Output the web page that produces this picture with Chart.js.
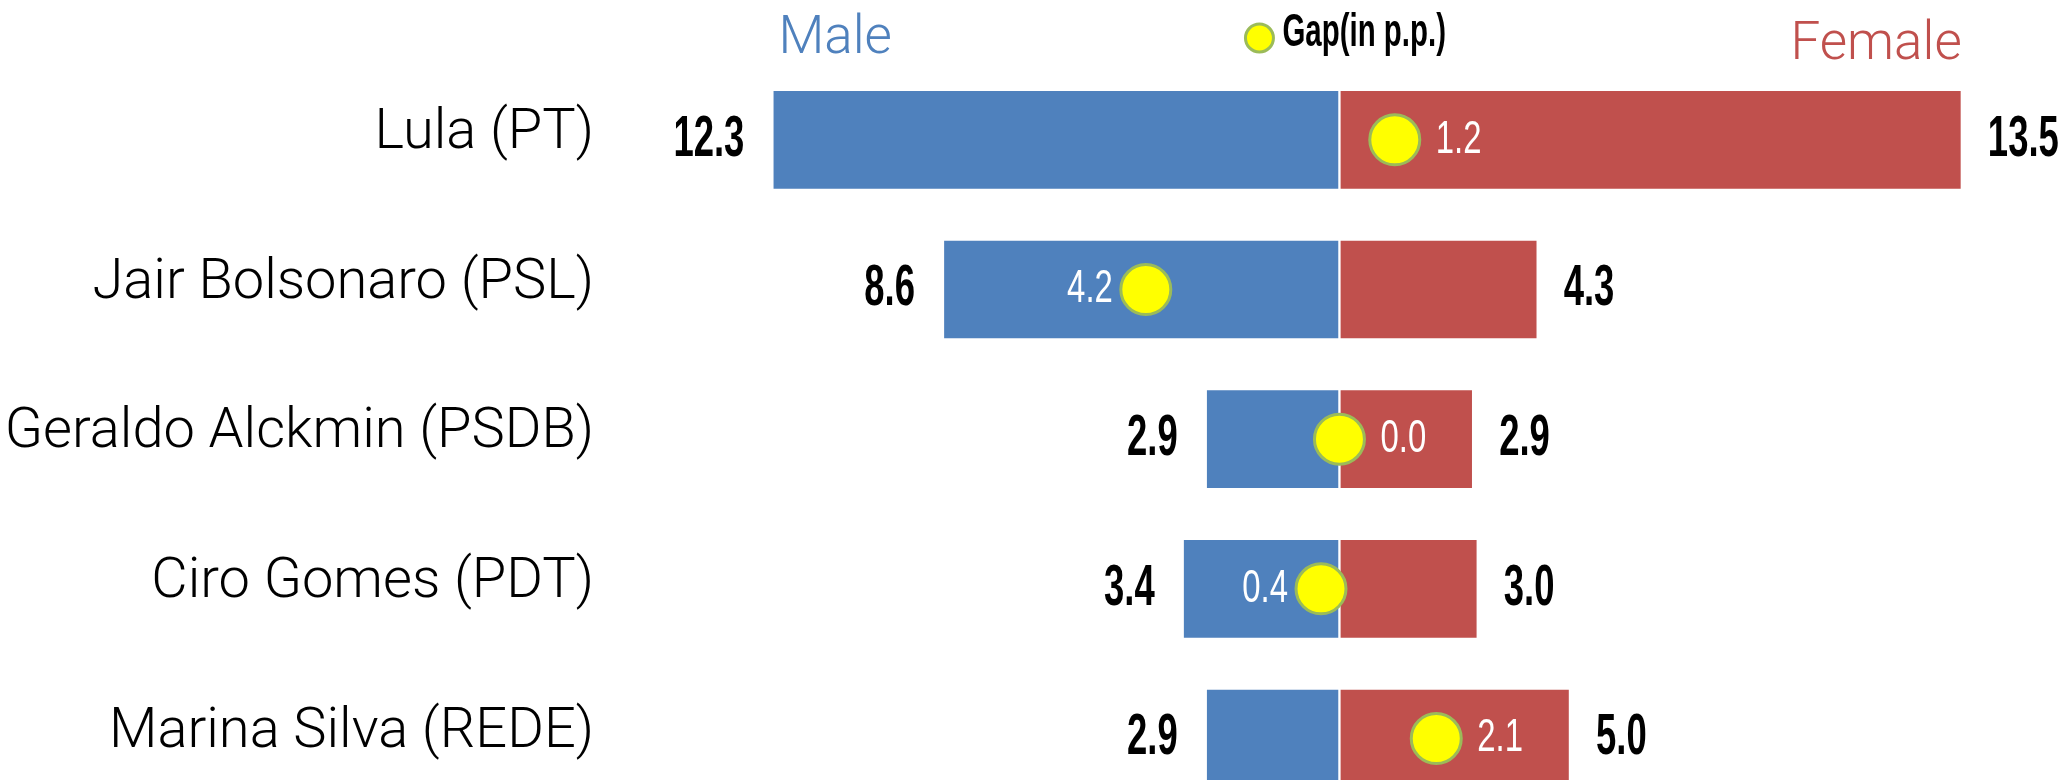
<!DOCTYPE html>
<html>
<head>
<meta charset="utf-8">
<script src="https://cdn.jsdelivr.net/npm/chart.js@4"></script>
<style>
    html, body { margin: 0; padding: 0; background: #fff; overflow: hidden; }
    #wrap { width: 2069px; height: 780px; }
</style>
</head>
<body>
<div id="wrap"><canvas id="myChart" width="2069" height="780"></canvas></div>
<script>
const candidates = [
    'Lula (PT)',
    'Jair Bolsonaro (PSL)',
    'Geraldo Alckmin (PSDB)',
    'Ciro Gomes (PDT)',
    'Marina Silva (REDE)',
];
const maleValues = [12.3, 8.6, 2.9, 3.4, 2.9];
const femaleValues = [13.5, 4.3, 2.9, 3.0, 5.0];
const gapValues = [1.2, -4.2, 0.0, -0.4, 2.1]; // negative = male side
const xMin = -14;
const xMax = 15;
// rows are numbered 0..4; the last row runs past the bottom of the picture
const yMin = -0.5;
const yMax = 4.09;

const BLUE = '#4F81BD';
const RED = '#C0504D';
const YELLOW = '#FFFF00';
const GREEN = '#9BBB59';
const NUM_FONT = "'Liberation Sans Narrow', 'Arial Narrow', sans-serif";

function drawText(ctx, text, x, y, align, font, color, sx) {
    ctx.save();
    ctx.font = font;
    ctx.fillStyle = color;
    ctx.textBaseline = 'middle';
    ctx.textAlign = align;
    ctx.translate(x, y);
    ctx.scale(sx, 1);
    ctx.fillText(text, 0, 0);
    ctx.restore();
}

// category names, value labels, gap labels, headers and legend
const labelsPlugin = {
    id: 'labels',
    afterDatasetsDraw(chart) {
        const ctx = chart.ctx;
        const xs = chart.scales.x;
        const ys = chart.scales.y;
        const center = xs.getPixelForValue(0);

        // candidate names
        candidates.forEach((name, i) => {
            drawText(ctx, name, chart.chartArea.left - 100, ys.getPixelForValue(i) - 6,
                'right', '300 56px Roboto', '#000', 1);
        });

        // gap labels (white, inside bars)
        chart.getDatasetMeta(0).data.forEach((pt, i) => {
            const g = gapValues[i];
            const txt = Math.abs(g).toFixed(1);
            if (g < 0) {
                drawText(ctx, txt, pt.x - 33, pt.y, 'right', '47px ' + NUM_FONT, '#fff', 0.7);
            } else {
                drawText(ctx, txt, pt.x + 41, pt.y, 'left', '47px ' + NUM_FONT, '#fff', 0.7);
            }
        });

        // male values
        chart.getDatasetMeta(1).data.forEach((bar, i) => {
            drawText(ctx, maleValues[i].toFixed(1), bar.x - 28, bar.y, 'right',
                'bold 57px ' + NUM_FONT, '#000', 0.64);
        });
        // female values
        chart.getDatasetMeta(2).data.forEach((bar, i) => {
            drawText(ctx, femaleValues[i].toFixed(1), bar.x + 26, bar.y, 'left',
                'bold 57px ' + NUM_FONT, '#000', 0.64);
        });

        // headers
        const maleLeft = xs.getPixelForValue(-Math.max(...maleValues));
        const femaleRight = xs.getPixelForValue(Math.max(...femaleValues));
        ctx.save();
        ctx.textBaseline = 'alphabetic';
        ctx.font = '300 53px Roboto';
        ctx.fillStyle = BLUE;
        ctx.textAlign = 'left';
        ctx.fillText('Male', maleLeft + 6, 53);
        ctx.fillStyle = RED;
        ctx.textAlign = 'right';
        ctx.fillText('Female', femaleRight, 59);
        ctx.restore();

        // legend
        ctx.save();
        ctx.beginPath();
        ctx.arc(center - 80, 38, 14, 0, Math.PI * 2);
        ctx.fillStyle = YELLOW;
        ctx.fill();
        ctx.lineWidth = 3;
        ctx.strokeStyle = GREEN;
        ctx.stroke();
        ctx.restore();
        drawText(ctx, 'Gap(in p.p.)', center - 57, 33, 'left', 'bold 46px ' + NUM_FONT, '#000', 0.64);
    },
};

const ctx = document.getElementById('myChart');
new Chart(ctx, {
    type: 'bar',
    data: {
        labels: candidates,
        datasets: [
            {
                type: 'line',
                label: 'Gap (in p.p.)',
                indexAxis: 'y',
                data: gapValues.map((g, i) => ({ x: g, y: i })),
                showLine: false,
                pointRadius: 25,
                pointBackgroundColor: YELLOW,
                pointBorderColor: GREEN,
                pointBorderWidth: 3,
                clip: false,
                order: 0,
            },
            {
                label: 'Male',
                data: maleValues.map((v, i) => ({ x: -v, y: i })),
                backgroundColor: BLUE,
                borderColor: '#fff',
                borderWidth: 1.5,
                borderSkipped: false,
                clip: false,
                order: 1,
            },
            {
                label: 'Female',
                data: femaleValues.map((v, i) => ({ x: v, y: i })),
                backgroundColor: RED,
                borderColor: '#fff',
                borderWidth: 1.5,
                borderSkipped: false,
                clip: false,
                order: 1,
            },
        ],
    },
    options: {
        indexAxis: 'y',
        responsive: false,
        animation: false,
        devicePixelRatio: 1,
        barThickness: 100,
        layout: { padding: { left: 694, right: 38, top: 65, bottom: 0 } },
        plugins: {
            legend: { display: false },
            tooltip: { enabled: false },
        },
        scales: {
            x: {
                type: 'linear',
                display: false,
                stacked: true,
                offset: false,
                min: xMin,
                max: xMax,
            },
            y: {
                type: 'linear',
                display: false,
                stacked: true,
                reverse: true,
                offset: false,
                grid: { offset: false },
                min: yMin,
                max: yMax,
            },
        },
    },
    plugins: [labelsPlugin],
});
</script>
</body>
</html>
